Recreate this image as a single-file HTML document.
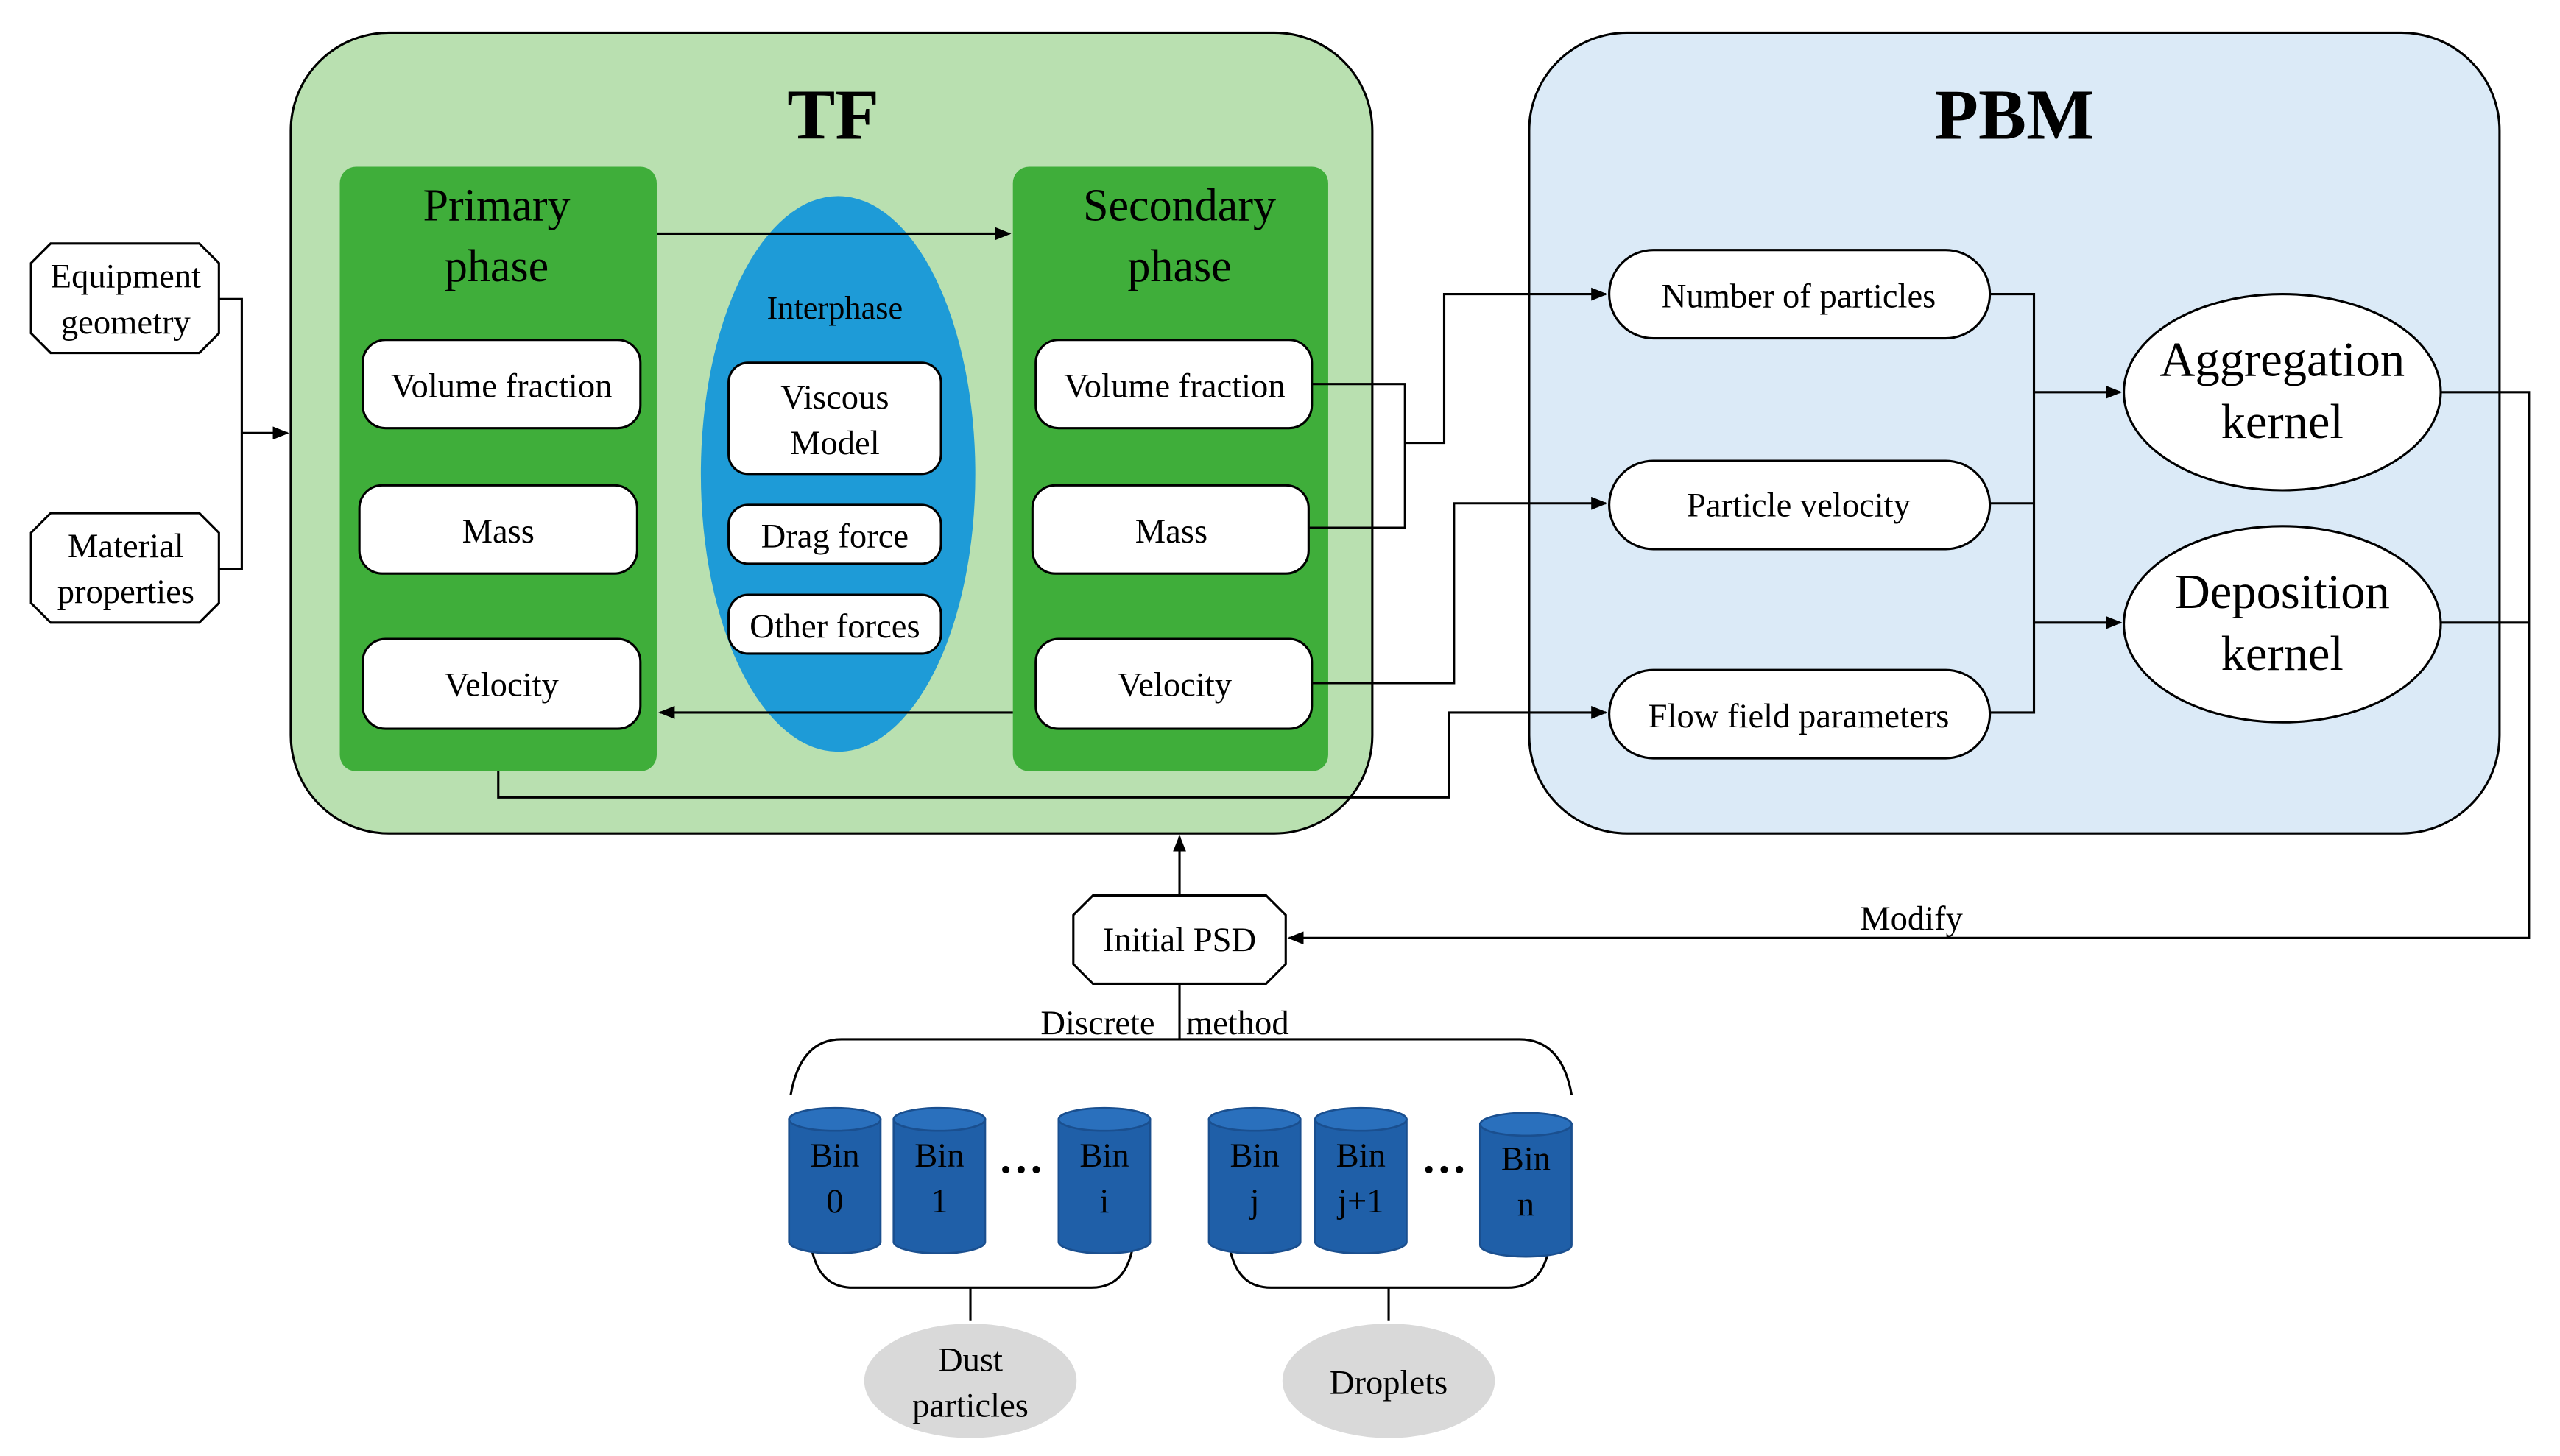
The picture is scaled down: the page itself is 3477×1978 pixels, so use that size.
<!DOCTYPE html>
<html><head><meta charset="utf-8"><style>html,body{margin:0;padding:0;background:#fff}svg{display:block}text{font-family:"Liberation Serif",serif;fill:#000}</style></head><body>
<svg width="3477" height="1978" viewBox="0 0 1567 891" preserveAspectRatio="none" xmlns="http://www.w3.org/2000/svg">
<defs><marker id="a" markerWidth="10" markerHeight="8" refX="9" refY="4" orient="auto" markerUnits="userSpaceOnUse"><path d="M0,0 L10,4 L0,8 Z" fill="#000"/></marker></defs>
<g stroke="#000" stroke-width="1.4">
<rect x="178" y="20" width="662" height="490" rx="60" fill="#b9e0b0"/>
<rect x="936" y="20" width="594" height="490" rx="60" fill="#dbeaf7"/>
<rect x="208" y="102" width="194" height="370" rx="10" fill="#3fae3a" stroke="none"/>
<rect x="620" y="102" width="193" height="370" rx="10" fill="#3fae3a" stroke="none"/>
<ellipse cx="513" cy="290" rx="84" ry="170" fill="#1e9bd7" stroke="none"/>
<g fill="#fff">
<rect x="222" y="208" width="170" height="54" rx="14"/>
<rect x="220" y="297" width="170" height="54" rx="14"/>
<rect x="222" y="391" width="170" height="55" rx="14"/>
<rect x="634" y="208" width="169" height="54" rx="14"/>
<rect x="632" y="297" width="169" height="54" rx="14"/>
<rect x="634" y="391" width="169" height="55" rx="14"/>
<rect x="446" y="222" width="130" height="68" rx="12"/>
<rect x="446" y="309" width="130" height="36" rx="12"/>
<rect x="446" y="364" width="130" height="36" rx="12"/>
<rect x="985" y="153" width="233" height="54" rx="27"/>
<rect x="985" y="282" width="233" height="54" rx="27"/>
<rect x="985" y="410" width="233" height="54" rx="27"/>
<ellipse cx="1397" cy="240" rx="97" ry="60"/>
<ellipse cx="1397" cy="382" rx="97" ry="60"/>
<polygon points="31,149 122,149 134,161 134,204 122,216 31,216 19,204 19,161"/>
<polygon points="31,314 122,314 134,326 134,369 122,381 31,381 19,369 19,326"/>
<polygon points="669,548 775,548 787,560 787,590 775,602 669,602 657,590 657,560"/>
</g>
<g fill="none">
<path d="M402,143 H618" marker-end="url(#a)"/>
<path d="M620,436 H404" marker-end="url(#a)"/>
<path d="M134,183 H148 V348 H134"/>
<path d="M148,265 H176" marker-end="url(#a)"/>
<path d="M1218,180 H1245 V436 H1218 M1218,308 H1245"/>
<path d="M1245,240 H1298" marker-end="url(#a)"/>
<path d="M1245,381 H1298" marker-end="url(#a)"/>
<path d="M1494,240 H1548 V574 H789" marker-end="url(#a)"/>
<path d="M1494,381 H1548"/>
<path d="M803,235 H860 V323 H801"/>
<path d="M860,271 H884 V180 H983" marker-end="url(#a)"/>
<path d="M803,418 H890 V308 H983" marker-end="url(#a)"/>
<path d="M305,472 V488 H887 V436 H983" marker-end="url(#a)"/>
<path d="M722,548 V512" marker-end="url(#a)"/>
<path d="M722,602 V636"/>
<path d="M484,670 Q490,636 515,636 H930 Q956,636 962,670"/>
<path d="M497,765 Q502,788 522,788 H668 Q688,788 693,765 M594,788 V808"/>
<path d="M753,765 Q758,788 778,788 H923 Q943,788 948,765 M850,788 V808"/>
</g>
</g>
<g stroke="#1a4f8f" stroke-width="1.2">
<g fill="#1f5fa8">
<path d="M483,685 V760 A28,7 0 0 0 539,760 V685 Z"/>
<path d="M547,685 V760 A28,7 0 0 0 603,760 V685 Z"/>
<path d="M648,685 V760 A28,7 0 0 0 704,760 V685 Z"/>
<path d="M740,685 V760 A28,7 0 0 0 796,760 V685 Z"/>
<path d="M805,685 V760 A28,7 0 0 0 861,760 V685 Z"/>
<path d="M906,688 V762 A28,7 0 0 0 962,762 V688 Z"/>
</g>
<g fill="#2a70bd">
<ellipse cx="511" cy="685" rx="28" ry="7"/><ellipse cx="575" cy="685" rx="28" ry="7"/><ellipse cx="676" cy="685" rx="28" ry="7"/>
<ellipse cx="768" cy="685" rx="28" ry="7"/><ellipse cx="833" cy="685" rx="28" ry="7"/><ellipse cx="934" cy="688" rx="28" ry="7"/>
</g>
</g>
<ellipse cx="594" cy="845" rx="65" ry="35" fill="#d9d9d9"/>
<ellipse cx="850" cy="845" rx="65" ry="35" fill="#d9d9d9"/>
<g text-anchor="middle">
<text x="510" y="85" font-size="44" font-weight="bold">TF</text>
<text x="1233" y="85" font-size="44" font-weight="bold">PBM</text>
<g font-size="28"><text x="304" y="135">Primary</text><text x="304" y="172">phase</text><text x="722" y="135">Secondary</text><text x="722" y="172">phase</text></g>
<g font-size="21">
<text x="307" y="243">Volume fraction</text><text x="305" y="332">Mass</text><text x="307" y="426">Velocity</text>
<text x="719" y="243">Volume fraction</text><text x="717" y="332">Mass</text><text x="719" y="426">Velocity</text>
<text x="511" y="250">Viscous</text><text x="511" y="278">Model</text>
<text x="511" y="335">Drag force</text><text x="511" y="390">Other forces</text>
<text x="1101" y="188">Number of particles</text><text x="1101" y="316">Particle velocity</text><text x="1101" y="445">Flow field parameters</text>
<text x="77" y="176">Equipment</text><text x="77" y="204">geometry</text>
<text x="77" y="341">Material</text><text x="77" y="369">properties</text>
<text x="722" y="582">Initial PSD</text>
<text x="1170" y="569">Modify</text>
<text x="594" y="839">Dust</text><text x="594" y="867">particles</text>
<text x="850" y="853">Droplets</text>
</g>
<text x="511" y="195" font-size="20">Interphase</text>
<g font-size="30"><text x="1397" y="230">Aggregation</text><text x="1397" y="268">kernel</text><text x="1397" y="372">Deposition</text><text x="1397" y="410">kernel</text></g>
<g font-size="21" fill="#000"><text x="511" y="714">Bin</text><text x="511" y="742">0</text><text x="575" y="714">Bin</text><text x="575" y="742">1</text><text x="676" y="714">Bin</text><text x="676" y="742">i</text><text x="768" y="714">Bin</text><text x="768" y="742">j</text><text x="833" y="714">Bin</text><text x="833" y="742">j+1</text><text x="934" y="716">Bin</text><text x="934" y="744">n</text></g>
<text x="625" y="725" font-size="28" font-weight="bold">···</text><text x="884" y="725" font-size="28" font-weight="bold">···</text>
</g>
<text x="637" y="633" font-size="21">Discrete</text><text x="726" y="633" font-size="21">method</text>
</svg>
</body></html>
